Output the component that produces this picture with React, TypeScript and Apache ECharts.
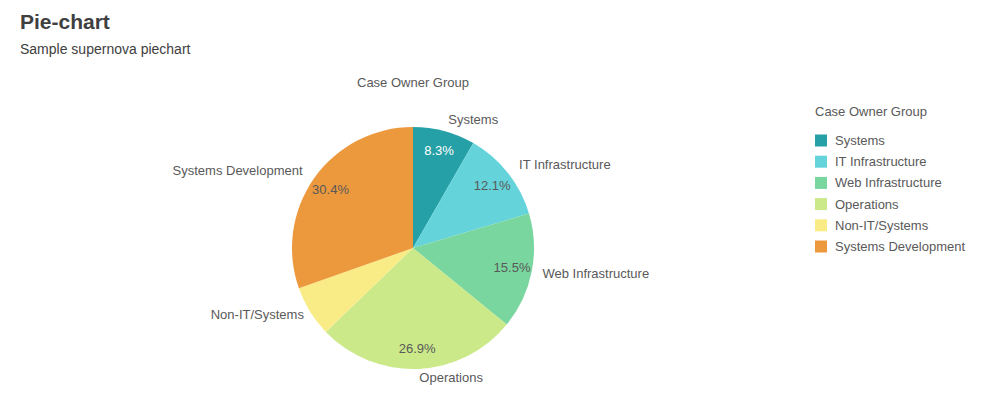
import React, { useEffect, useRef } from "react";
import * as echarts from "echarts";

const categories = [
  "Systems",
  "IT Infrastructure",
  "Web Infrastructure",
  "Operations",
  "Non-IT/Systems",
  "Systems Development",
];
const shares = [8.3, 12.1, 15.5, 26.9, 6.8, 30.4];
const colors = ["#26A0A7", "#65D3DA", "#79D69F", "#CBE989", "#F9EC86", "#EC983D"];
const labelLineLengths = [12, 13, 10, 9, 6, 13];
const insideLabelColors = ["#ffffff", "#595959", "#595959", "#595959", "#595959", "#595959"];
const showInside = [true, true, true, true, false, true];

const FONT = "'Liberation Sans', Arial, Helvetica, sans-serif";

export default function App() {
  const ref = useRef<HTMLDivElement>(null);
  useEffect(() => {
    document.body.style.margin = "0";
    if (!ref.current) return;
    const chart = echarts.init(ref.current, null, { renderer: "svg" });
    const center = [413, 248];
    chart.setOption({
      animation: false,
      textStyle: { fontFamily: FONT },
      title: [
        {
          text: "Pie-chart",
          subtext: "Sample supernova piechart",
          left: 20,
          top: 11,
          padding: 0,
          itemGap: 10,
          textStyle: { fontSize: 21, fontWeight: "bold", color: "#404040", fontFamily: FONT },
          subtextStyle: { fontSize: 14, color: "#404040", fontFamily: FONT },
        },
        {
          text: "Case Owner Group",
          left: 413,
          top: 76,
          padding: 0,
          textAlign: "center",
          textStyle: { fontSize: 13, fontWeight: "normal", color: "#595959", fontFamily: FONT },
        },
        {
          text: "Case Owner Group",
          left: 815,
          top: 105,
          padding: 0,
          textStyle: { fontSize: 13, fontWeight: "normal", color: "#595959", fontFamily: FONT },
        },
      ],
      legend: {
        orient: "vertical",
        left: 815,
        top: 134,
        padding: 0,
        itemWidth: 12,
        itemHeight: 12,
        itemGap: 8.2,
        icon: "rect",
        data: categories,
        textStyle: { fontSize: 13, color: "#595959", fontFamily: FONT, padding: [0, 0, 0, 3] },
      },
      series: [
        {
          type: "pie",
          center,
          radius: [0, 121],
          startAngle: 90,
          clockwise: true,
          avoidLabelOverlap: false,
          silent: true,
          label: {
            show: true,
            position: "outside",
            color: "#595959",
            fontSize: 13,
            fontFamily: FONT,
            distanceToLabelLine: 1,
          },
          labelLine: { show: false, length: 10, length2: 0 },
          itemStyle: { borderWidth: 0 },
          data: categories.map((name, i) => ({
            name,
            value: shares[i],
            itemStyle: { color: colors[i] },
            labelLine: { show: false, length: labelLineLengths[i], length2: 0 },
          })),
        },
        {
          type: "pie",
          center,
          radius: [75, 121],
          startAngle: 90,
          clockwise: true,
          silent: true,
          avoidLabelOverlap: false,
          legendHoverLink: false,
          label: {
            show: true,
            position: "inside",
            fontSize: 13,
            fontFamily: FONT,
            formatter: (p: any) => p.value.toFixed(1) + "%",
          },
          labelLine: { show: false },
          itemStyle: { color: "rgba(0,0,0,0)", borderWidth: 0 },
          data: categories.map((name, i) => ({
            name: name + " ",
            value: shares[i],
            label: { show: showInside[i], color: insideLabelColors[i] },
          })),
        },
      ],
    });
    return () => chart.dispose();
  }, []);
  return <div ref={ref} style={{ width: 998, height: 403 }} />;
}
